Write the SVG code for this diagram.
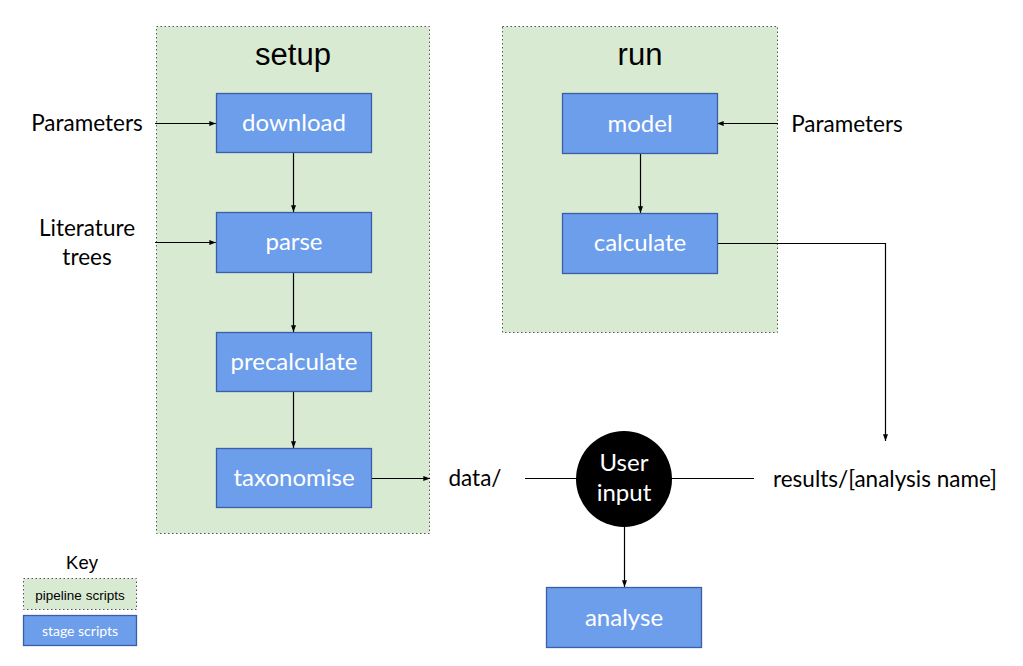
<svg xmlns="http://www.w3.org/2000/svg" width="1023" height="666" viewBox="0 0 1023 666">
<style>
.container{fill:#d9ead3;stroke:#555;stroke-width:1;stroke-dasharray:1.5 2.5}
.stage{fill:#6d9eeb;stroke:#3a5fa6;stroke-width:1.3}
.lbl{font-family:Lato,"Open Sans",sans-serif;font-size:24px;fill:#fff;text-anchor:middle}
.ext{font-family:Lato,"Open Sans",sans-serif;font-size:22.5px;fill:#000;text-anchor:middle}
.title{font-family:"Liberation Sans",Arial,sans-serif;font-size:31px;fill:#000;text-anchor:middle}
.conn{stroke:#000;stroke-width:1.2;fill:none}
.arr{marker-end:url(#ah)}
</style>
<defs>
<marker id="ah" viewBox="0 0 8 6" refX="8" refY="3" markerWidth="7" markerHeight="5" markerUnits="userSpaceOnUse" orient="auto">
<path d="M0,0 L8,3 L0,6 Z" fill="#000"/>
</marker>
</defs>
<rect width="1023" height="666" fill="#fff"/>
<g id="setup">
<rect class="container" x="156.5" y="26.5" width="273" height="507"/>
<text class="title" x="293" y="65">setup</text>
</g>
<g id="run">
<rect class="container" x="502.5" y="26.5" width="275" height="306"/>
<text class="title" x="640" y="65">run</text>
</g>
<g id="connectors">
<path class="conn arr" d="M155,123.5 H216"/>
<path class="conn arr" d="M155,242.5 H216"/>
<path class="conn arr" d="M293.5,152 V212"/>
<path class="conn arr" d="M293.5,272 V332"/>
<path class="conn arr" d="M293.5,391 V448"/>
<path class="conn arr" d="M371,478.5 H430"/>
<path class="conn" d="M525,478.5 H577"/>
<path class="conn" d="M671,478.5 H754"/>
<path class="conn arr" d="M624.5,527 V587"/>
<path class="conn arr" d="M778,123.5 H717"/>
<path class="conn arr" d="M640.5,153 V213"/>
<path class="conn arr" d="M717,243.5 H885.5 V441"/>
</g>
<g id="download">
<rect class="stage" x="216.5" y="93.5" width="155" height="59"/>
<text class="lbl" x="294" y="131">download</text>
</g>
<g id="parse">
<rect class="stage" x="216.5" y="212.5" width="155" height="60"/>
<text class="lbl" x="294" y="250">parse</text>
</g>
<g id="precalculate">
<rect class="stage" x="216.5" y="332.5" width="155" height="59"/>
<text class="lbl" x="294" y="370">precalculate</text>
</g>
<g id="taxonomise">
<rect class="stage" x="216.5" y="448.5" width="155" height="59"/>
<text class="lbl" x="294" y="486">taxonomise</text>
</g>
<g id="model">
<rect class="stage" x="562.5" y="93.5" width="155" height="60"/>
<text class="lbl" x="640" y="132">model</text>
</g>
<g id="calculate">
<rect class="stage" x="562.5" y="213.5" width="155" height="60"/>
<text class="lbl" x="640" y="251">calculate</text>
</g>
<g id="analyse">
<rect class="stage" x="546.5" y="587.5" width="155" height="60"/>
<text class="lbl" x="624" y="626">analyse</text>
</g>
<g id="user-input">
<circle cx="624" cy="479" r="48" fill="#000"/>
<text class="lbl" x="624" y="471">User</text>
<text class="lbl" x="624" y="501">input</text>
</g>
<g id="parameters-setup">
<text class="ext" x="87" y="131">Parameters</text>
</g>
<g id="literature-trees">
<text class="ext" x="87" y="236">Literature</text>
<text class="ext" x="87" y="265">trees</text>
</g>
<g id="parameters-run">
<text class="ext" x="847" y="132">Parameters</text>
</g>
<g id="data">
<text class="ext" x="475" y="486">data/</text>
</g>
<g id="results">
<text class="ext" x="885" y="487">results/[analysis name]</text>
</g>
<g id="key">
<text x="82" y="569" font-family="'Liberation Sans',Arial,sans-serif" font-size="18.5" text-anchor="middle">Key</text>
<rect class="container" x="23.5" y="578.5" width="113" height="31"/>
<text x="80" y="600" font-family="'Liberation Sans',Arial,sans-serif" font-size="13.5" text-anchor="middle">pipeline scripts</text>
<rect class="stage" x="23.5" y="615.5" width="113" height="30"/>
<text x="80" y="636" font-family="Lato,'Open Sans',sans-serif" font-size="14" fill="#fff" text-anchor="middle">stage scripts</text>
</g>
</svg>
